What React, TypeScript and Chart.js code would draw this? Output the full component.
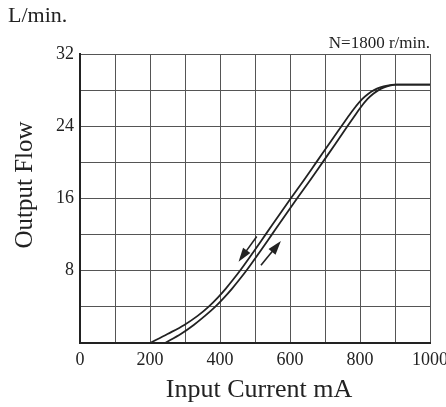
import React, { useEffect, useRef } from "react";
import { Chart, registerables } from "chart.js";

Chart.register(...registerables);

// Descending (left) curve: current mA, flow L/min
const downCurrent = [200, 250, 298, 336, 367, 393, 416, 437, 457, 494, 530, 566, 602, 639, 675, 711, 747, 765, 784, 806, 824, 840, 858, 878, 900, 1000];
const downFlow = [0, 1, 2, 3, 4, 5, 6, 7, 8, 10, 12, 14, 16, 18, 20, 22, 24, 25, 26, 27, 27.6, 28, 28.3, 28.5, 28.6, 28.6];
// Ascending (right) curve
const upCurrent = [243, 288, 325, 357, 386, 411, 434, 455, 475, 512, 548, 584, 620, 657, 693, 729, 764, 782, 800, 821, 838, 853, 869, 885, 905, 1000];
const upFlow = [0, 1, 2, 3, 4, 5, 6, 7, 8, 10, 12, 14, 16, 18, 20, 22, 24, 25, 26, 27, 27.6, 28, 28.3, 28.5, 28.6, 28.6];

// Direction arrows [fromX, fromY, toX, toY]
const arrowDown = [505, 11.8, 453, 9.0];
const arrowUp = [517, 8.6, 574, 11.3];

const xLabelValues = [0, 200, 400, 600, 800, 1000];
const yLabelValues = [8, 16, 24, 32];

const xTitle = "Input Current mA";
const yTitle = "Output Flow";
const unitText = "L/min.";
const speedText = "N=1800 r/min.";

const FONT = "'Liberation Serif', 'Times New Roman', serif";
const INK = "#222";

function toPoints(xs: number[], ys: number[]) {
  return xs.map((x, i) => ({ x, y: ys[i] }));
}

const textPlugin = {
  id: "extraText",
  afterDraw(chart: any) {
    const ctx = chart.ctx;
    const area = chart.chartArea;
    ctx.save();
    ctx.fillStyle = INK;
    ctx.textBaseline = "middle";
    ctx.font = `22px ${FONT}`;
    ctx.textAlign = "left";
    ctx.fillText(unitText, 8, 16);
    ctx.font = `17px ${FONT}`;
    ctx.textAlign = "right";
    ctx.fillText(speedText, area.right, 44);
    ctx.font = `26px ${FONT}`;
    ctx.textAlign = "center";
    ctx.fillText(xTitle, 259, 390);
    ctx.font = `25px ${FONT}`;
    ctx.translate(25, 185);
    ctx.rotate(-Math.PI / 2);
    ctx.fillText(yTitle, 0, 0);
    ctx.restore();
  },
};

const arrowPlugin = {
  id: "arrows",
  afterDatasetsDraw(chart: any) {
    const ctx = chart.ctx;
    const xs = chart.scales.x;
    const ys = chart.scales.y;
    const draw = (a: number[]) => {
      const x1 = xs.getPixelForValue(a[0]);
      const y1 = ys.getPixelForValue(a[1]);
      const x2 = xs.getPixelForValue(a[2]);
      const y2 = ys.getPixelForValue(a[3]);
      const ang = Math.atan2(y2 - y1, x2 - x1);
      const hl = 14;
      const hw = 4.5;
      ctx.save();
      ctx.strokeStyle = INK;
      ctx.fillStyle = INK;
      ctx.lineWidth = 1.6;
      ctx.beginPath();
      ctx.moveTo(x1, y1);
      ctx.lineTo(x2 - Math.cos(ang) * hl * 0.8, y2 - Math.sin(ang) * hl * 0.8);
      ctx.stroke();
      const bx = x2 - Math.cos(ang) * hl;
      const by = y2 - Math.sin(ang) * hl;
      ctx.beginPath();
      ctx.moveTo(x2, y2);
      ctx.lineTo(bx + Math.sin(ang) * hw, by - Math.cos(ang) * hw);
      ctx.lineTo(bx - Math.sin(ang) * hw, by + Math.cos(ang) * hw);
      ctx.closePath();
      ctx.fill();
      ctx.restore();
    };
    draw(arrowDown);
    draw(arrowUp);
  },
};

export default function App() {
  const ref = useRef<HTMLCanvasElement | null>(null);
  useEffect(() => {
    document.body.style.margin = "0";
    const canvas = ref.current;
    if (!canvas) return;
    const chart = new Chart(canvas, {
      type: "line",
      data: {
        datasets: [
          {
            data: toPoints(downCurrent, downFlow),
            borderColor: INK,
            borderWidth: 1.8,
            pointRadius: 0,
            cubicInterpolationMode: "monotone",
            fill: false,
          },
          {
            data: toPoints(upCurrent, upFlow),
            borderColor: INK,
            borderWidth: 1.8,
            pointRadius: 0,
            cubicInterpolationMode: "monotone",
            fill: false,
          },
        ],
      },
      options: {
        animation: false,
        responsive: false,
        events: [],
        layout: { padding: { top: 54, right: 16, left: 0, bottom: 0 } },
        plugins: { legend: { display: false }, tooltip: { enabled: false }, title: { display: false } },
        scales: {
          x: {
            type: "linear",
            min: 0,
            max: 1000,
            ticks: {
              stepSize: 100,
              autoSkip: false,
              maxRotation: 0,
              padding: 6,
              color: INK,
              font: { family: FONT, size: 18 },
              callback: (v: any) => (xLabelValues.includes(Number(v)) ? String(v) : ""),
            },
            grid: { color: "#555", lineWidth: 1, drawTicks: false },
            border: { display: true, color: INK, width: 2 },
            afterFit: (s: any) => {
              s.height = 64;
              s.paddingLeft = 0;
              s.paddingRight = 0;
            },
          },
          y: {
            type: "linear",
            min: 0,
            max: 32,
            ticks: {
              stepSize: 4,
              autoSkip: false,
              padding: 6,
              color: INK,
              font: { family: FONT, size: 18 },
              callback: (v: any) => (yLabelValues.includes(Number(v)) ? String(v) : ""),
            },
            grid: { color: "#555", lineWidth: 1, drawTicks: false },
            border: { display: true, color: INK, width: 2 },
            afterFit: (s: any) => {
              s.width = 80;
              s.paddingTop = 0;
              s.paddingBottom = 0;
            },
          },
        },
      },
      plugins: [textPlugin, arrowPlugin],
    } as any);
    return () => chart.destroy();
  }, []);
  return (
    <div style={{ width: 446, height: 407, background: "#fff" }}>
      <canvas ref={ref} width={446} height={407} style={{ display: "block" }} />
    </div>
  );
}
